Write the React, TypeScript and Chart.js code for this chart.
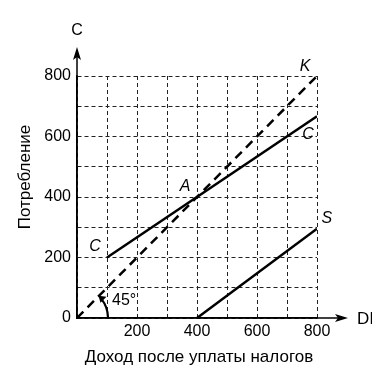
import React, { useEffect, useRef } from "react";
import { Chart, registerables } from "chart.js";

Chart.register(...registerables);

// Data (disposable income DI -> values)
const consumptionDI = [100, 800];
const consumptionC = [200, 667];
const diagonalDI = [0, 800];
const diagonalK = [0, 800];
const savingDI = [400, 800];
const savingS = [0, 295];

const axisMin = 0;
const axisMax = 800;
const gridStep = 100;
const labelStep = 200;

const yAxisTitle = "Потребление";
const xAxisTitle = "Доход после уплаты налогов";
const yAxisName = "C";
const xAxisName = "DI";

// curve labels anchored at data coordinates
const curveLabelText = ["K", "C", "C", "A", "S"];
const curveLabelX = [760, 770, 60, 360, 833];
const curveLabelY = [830, 605, 235, 436, 330];

const FONT = "'Liberation Sans', Arial, sans-serif";

function pts(xs: number[], ys: number[]) {
  return xs.map((x, i) => ({ x, y: ys[i] }));
}

const decorPlugin = {
  id: "decor",
  afterDraw(chart: any) {
    const ctx = chart.ctx;
    const xs = chart.scales.x;
    const ys = chart.scales.y;
    const ox = xs.getPixelForValue(0);
    const oy = ys.getPixelForValue(0);
    const top = ys.getPixelForValue(axisMax);
    const right = xs.getPixelForValue(axisMax);
    ctx.save();
    ctx.strokeStyle = "#000";
    ctx.fillStyle = "#000";
    ctx.lineWidth = 1.5;
    ctx.setLineDash([]);
    // redraw solid axes
    ctx.beginPath();
    ctx.moveTo(ox, oy);
    ctx.lineTo(ox, top);
    ctx.moveTo(ox, oy);
    ctx.lineTo(right, oy);
    ctx.stroke();
    // y axis extension + arrow
    const yTip = top - 29;
    ctx.beginPath();
    ctx.moveTo(ox, top);
    ctx.lineTo(ox, yTip + 4);
    ctx.stroke();
    ctx.beginPath();
    ctx.moveTo(ox, yTip);
    ctx.lineTo(ox - 4, yTip + 13);
    ctx.lineTo(ox, yTip + 10);
    ctx.lineTo(ox + 4, yTip + 13);
    ctx.closePath();
    ctx.fill();
    // x axis extension + arrow
    const xTip = right + 31;
    ctx.beginPath();
    ctx.moveTo(right, oy);
    ctx.lineTo(xTip - 4, oy);
    ctx.stroke();
    ctx.beginPath();
    ctx.moveTo(xTip, oy);
    ctx.lineTo(xTip - 13, oy - 4);
    ctx.lineTo(xTip - 10, oy);
    ctx.lineTo(xTip - 13, oy + 4);
    ctx.closePath();
    ctx.fill();

    // axis names
    ctx.font = `16px ${FONT}`;
    ctx.textAlign = "center";
    ctx.textBaseline = "middle";
    ctx.fillText(yAxisName, ox, yTip - 16);
    ctx.textAlign = "left";
    ctx.font = `17px ${FONT}`;
    ctx.fillText(xAxisName, xTip + 9, oy + 1);

    // axis titles
    ctx.textAlign = "center";
    ctx.fillText(xAxisTitle, 199, 357);
    ctx.save();
    ctx.translate(25, 177);
    ctx.rotate(-Math.PI / 2);
    ctx.fillText(yAxisTitle, 0, 0);
    ctx.restore();

    // 45 degree arc with arrow
    const r = 31;
    ctx.lineWidth = 2.2;
    ctx.beginPath();
    ctx.arc(ox, oy, r, -0.02, -Math.PI / 4 + 0.12, true);
    ctx.stroke();
    const a = -Math.PI / 4 - 0.02;
    const tx = ox + r * Math.cos(a);
    const ty = oy + r * Math.sin(a);
    ctx.beginPath();
    ctx.moveTo(tx, ty);
    ctx.lineTo(tx + 8, ty + 1);
    ctx.lineTo(tx + 2, ty + 7);
    ctx.closePath();
    ctx.fill();
    ctx.font = `16px ${FONT}`;
    ctx.textAlign = "left";
    ctx.fillText("45°", ox + 35, oy - 17);

    // curve labels
    ctx.font = `italic 16px ${FONT}`;
    ctx.textAlign = "center";
    curveLabelText.forEach((t, i) => {
      ctx.fillText(t, xs.getPixelForValue(curveLabelX[i]), ys.getPixelForValue(curveLabelY[i]));
    });
    ctx.restore();
  },
};

export default function App() {
  const ref = useRef<HTMLCanvasElement | null>(null);
  useEffect(() => {
    if (!ref.current) return;
    const tickCb = (hideZero: boolean) => (v: any) => {
      const n = Number(v);
      if (hideZero && n === 0) return "";
      return n % labelStep === 0 ? String(n) : "";
    };
    const gridOpts = {
      color: "#222",
      lineWidth: 1,
      drawTicks: false,
    };
    const borderOpts = { display: true, color: "#000", width: 1.5, dash: [4, 3] };
    const chart = new Chart(ref.current, {
      type: "scatter",
      data: {
        datasets: [
          {
            data: pts(diagonalDI, diagonalK),
            showLine: true,
            borderColor: "#000",
            borderWidth: 2.5,
            borderDash: [9, 6],
            pointRadius: 0,
          },
          {
            data: pts(consumptionDI, consumptionC),
            showLine: true,
            borderColor: "#000",
            borderWidth: 2.5,
            pointRadius: 0,
          },
          {
            data: pts(savingDI, savingS),
            showLine: true,
            borderColor: "#000",
            borderWidth: 2.5,
            pointRadius: 0,
          },
        ],
      },
      options: {
        animation: false,
        responsive: false,
        maintainAspectRatio: false,
        layout: { padding: { left: 0, right: 55, top: 76, bottom: 0 } },
        plugins: { legend: { display: false }, tooltip: { enabled: false } },
        scales: {
          x: {
            type: "linear",
            min: axisMin,
            max: axisMax,
            grid: gridOpts,
            border: borderOpts,
            ticks: {
              stepSize: gridStep,
              autoSkip: false,
              maxRotation: 0,
              padding: 4,
              color: "#000",
              font: { family: FONT, size: 16 },
              callback: tickCb(true),
            },
            afterFit: (s: any) => {
              s.height = 59;
            },
          },
          y: {
            type: "linear",
            min: axisMin,
            max: axisMax,
            grid: gridOpts,
            border: borderOpts,
            ticks: {
              stepSize: gridStep,
              autoSkip: false,
              padding: 6,
              color: "#000",
              font: { family: FONT, size: 16 },
              callback: tickCb(false),
            },
            afterFit: (s: any) => {
              s.width = 77;
            },
          },
        },
      } as any,
      plugins: [decorPlugin],
    });
    return () => chart.destroy();
  }, []);
  return (
    <div style={{ position: "fixed", left: 0, top: 0, width: 372, height: 377, background: "#fff" }}>
      <canvas ref={ref} width={372} height={377} style={{ width: 372, height: 377 }} />
    </div>
  );
}
